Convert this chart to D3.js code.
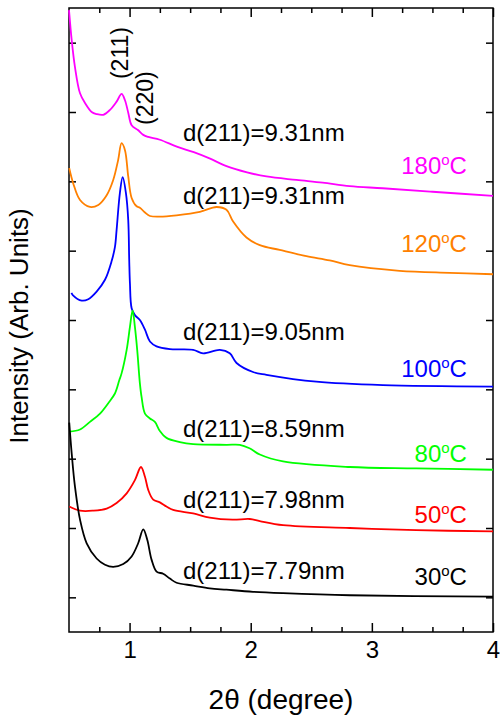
<!DOCTYPE html>
<html>
<head>
<meta charset="utf-8">
<script src="https://cdn.jsdelivr.net/npm/d3@7"></script>
<style>
  body { margin: 0; background: #fff; }
  text { font-family: "Liberation Sans", Arial, sans-serif; }
</style>
</head>
<body>
<div id="chart"></div>
<script>
// SAXS patterns, one curve per annealing temperature (arbitrary, offset units)
const temps = ["180", "120", "100", "80", "50", "30"]
const spacings = ["9.31", "9.31", "9.05", "8.59", "7.98", "7.79"]
const colors = ["#ff00ff", "#ff8000", "#0000ff", "#00ff00", "#ff0000", "#000000"]

const xTickValues = [1, 2, 3, 4]
const yTickValues = [1, 2, 3, 4, 5, 6, 7, 8, 9]

const s180 = [[0.5,9.47],[0.522,9.04],[0.549,8.65],[0.591,8.27],[0.632,8.13],[0.687,8.00],[0.728,7.97],[0.783,7.96],[0.838,8.03],[0.893,8.15],[0.934,8.26],[0.962,8.17],[0.989,7.99],[1.017,7.81],[1.069,7.74],[1.113,7.67],[1.154,7.64],[1.25,7.60],[1.39,7.50],[1.53,7.42],[1.66,7.33],[1.80,7.22],[1.97,7.13],[2.13,7.07],[2.377,7.02],[2.594,6.98],[2.817,6.93],[3.089,6.90],[3.501,6.85],[4.0,6.79]]
const s120 = [[0.502,7.19],[0.535,6.97],[0.591,6.73],[0.673,6.63],[0.742,6.66],[0.811,6.80],[0.865,7.02],[0.906,7.31],[0.934,7.55],[0.962,7.45],[0.989,7.07],[1.017,6.76],[1.058,6.64],[1.085,6.62],[1.127,6.55],[1.168,6.50],[1.25,6.49],[1.388,6.51],[1.58,6.56],[1.718,6.63],[1.80,6.59],[1.855,6.42],[1.965,6.19],[2.075,6.08],[2.239,6.01],[2.46,5.92],[2.652,5.86],[2.817,5.79],[3.229,5.71],[3.641,5.68],[4.0,5.66]]
const s100 = [[0.52,5.39],[0.531,5.36],[0.605,5.28],[0.659,5.30],[0.728,5.41],[0.797,5.58],[0.852,5.85],[0.879,6.05],[0.893,6.30],[0.920,6.83],[0.943,7.06],[0.970,6.83],[0.989,6.44],[0.997,5.87],[1.003,5.53],[1.017,5.17],[1.044,5.07],[1.085,5.00],[1.127,4.86],[1.168,4.69],[1.223,4.62],[1.333,4.58],[1.525,4.57],[1.607,4.52],[1.745,4.57],[1.827,4.52],[1.883,4.38],[2.019,4.25],[2.13,4.21],[2.542,4.11],[3.091,4.06],[4.0,4.04]]
const s80 = [[0.502,3.39],[0.591,3.42],[0.673,3.53],[0.756,3.65],[0.824,3.80],[0.879,3.94],[0.915,4.13],[0.934,4.23],[0.976,4.57],[1.003,4.90],[1.025,5.14],[1.044,4.90],[1.063,4.57],[1.085,4.09],[1.099,3.89],[1.127,3.65],[1.168,3.58],[1.209,3.53],[1.25,3.40],[1.305,3.30],[1.415,3.24],[1.525,3.21],[1.80,3.20],[1.91,3.20],[1.99,3.15],[2.075,3.06],[2.267,2.96],[2.817,2.88],[3.366,2.86],[4.0,2.84]]
const s50 = [[0.502,2.31],[0.591,2.25],[0.70,2.25],[0.811,2.28],[0.893,2.36],[0.976,2.50],[1.044,2.69],[1.094,2.88],[1.127,2.74],[1.154,2.55],[1.195,2.41],[1.25,2.37],[1.305,2.31],[1.36,2.26],[1.525,2.21],[1.662,2.15],[1.85,2.12],[1.992,2.13],[2.075,2.10],[2.267,2.04],[2.817,2.00],[3.366,1.97],[4.0,1.95]]
const s30 = [[0.502,3.52],[0.522,3.08],[0.549,2.60],[0.591,2.12],[0.646,1.78],[0.728,1.56],[0.797,1.47],[0.865,1.44],[0.948,1.48],[1.017,1.59],[1.071,1.78],[1.113,1.98],[1.146,1.83],[1.182,1.54],[1.223,1.37],[1.277,1.34],[1.333,1.27],[1.388,1.21],[1.525,1.17],[1.662,1.13],[1.80,1.11],[2.019,1.08],[2.267,1.06],[2.817,1.03],[4.0,1.01]]

const allSeries = [s180, s120, s100, s80, s50, s30]

var margin = {top: 8, right: 7, bottom: 87, left: 69}
var width = 500 - margin.left - margin.right,
    height = 719 - margin.top - margin.bottom

const svg = d3.select("#chart")
    .append("svg")
    .attr("width", 500)
    .attr("height", 719)

const g = svg.append("g")
    .attr("transform", "translate(" + margin.left + "," + margin.top + ")")

let x = d3.scaleLinear().domain([0.5, 4]).range([0, width])
let y = d3.scaleLinear().domain([0.5, 9.5]).range([height, 0])

// ---- axes, ticks pointing inward ----
const minorX = d3.range(0.75, 4, 0.25).filter(d => d % 1 !== 0)

g.append("g")
    .attr("transform", "translate(0," + height + ")")
    .call(d3.axisBottom(x).tickValues(xTickValues).tickSizeInner(-9).tickSizeOuter(0).tickPadding(9).tickFormat(d3.format("d")))
    .call(a => a.selectAll("text").style("font-size", "24px").attr("fill", "#000"))
g.append("g")
    .attr("transform", "translate(0," + height + ")")
    .call(d3.axisBottom(x).tickValues(minorX).tickSize(-5).tickFormat(""))
g.append("g")
    .call(d3.axisTop(x).tickValues(xTickValues).tickSize(-9).tickFormat(""))
g.append("g")
    .call(d3.axisTop(x).tickValues(minorX).tickSize(-5).tickFormat(""))
g.append("g")
    .call(d3.axisLeft(y).tickValues(yTickValues).tickSize(-7).tickFormat(""))
g.append("g")
    .attr("transform", "translate(" + width + ",0)")
    .call(d3.axisRight(y).tickValues(yTickValues).tickSize(-7).tickFormat(""))

g.selectAll(".domain").remove()
g.selectAll(".tick line").attr("stroke", "#000").attr("stroke-width", 1.5)

g.append("rect")
    .attr("width", width)
    .attr("height", height)
    .attr("fill", "none")
    .attr("stroke", "#000")
    .attr("stroke-width", 1.5)

// ---- curves ----
const line = d3.line()
    .x(d => x(d[0]))
    .y(d => y(d[1]))
    .curve(d3.curveCatmullRom.alpha(0.5))

g.selectAll(".curve")
    .data(allSeries)
    .enter()
    .append("path")
    .attr("class", "curve")
    .attr("d", line)
    .attr("fill", "none")
    .attr("stroke", (d, i) => colors[i])
    .attr("stroke-width", 1.8)
    .attr("stroke-linejoin", "round")

// ---- annotations ----
const dLabelY = [7.58, 6.67, 4.71, 3.31, 2.29, 1.26]
const tempLabelY = [7.11, 5.98, 4.18, 2.95, 2.07, 1.18]

g.selectAll(".dlab")
    .data(spacings)
    .enter()
    .append("text")
    .attr("class", "dlab")
    .attr("x", x(1.441))
    .attr("y", (d, i) => y(dLabelY[i]))
    .style("font-size", "24px")
    .text(d => "d(211)=" + d + "nm")

const tl = g.selectAll(".tlab")
    .data(temps)
    .enter()
    .append("text")
    .attr("class", "tlab")
    .attr("x", x(3.785))
    .attr("y", (d, i) => y(tempLabelY[i]))
    .attr("text-anchor", "end")
    .attr("fill", (d, i) => colors[i])
    .style("font-size", "24px")
tl.append("tspan").text(d => d)
tl.append("tspan").attr("dy", -9).style("font-size", "15px").text("o")
tl.append("tspan").attr("dy", 9).text("C")

// peak indices, rotated
g.append("text")
    .attr("transform", "translate(" + (x(0.988)) + "," + y(8.85) + ") rotate(-90)")
    .attr("text-anchor", "middle")
    .style("font-size", "23px")
    .text("(211)")
g.append("text")
    .attr("transform", "translate(" + (x(1.194)) + "," + y(8.2) + ") rotate(-90)")
    .attr("text-anchor", "middle")
    .style("font-size", "23px")
    .text("(220)")

// axis titles
svg.append("text")
    .attr("x", margin.left + width / 2)
    .attr("y", 709)
    .attr("text-anchor", "middle")
    .style("font-size", "28px")
    .text("2\u03b8 (degree)")

svg.append("text")
    .attr("transform", "translate(28," + (margin.top + height / 2 + 6) + ") rotate(-90)")
    .attr("text-anchor", "middle")
    .style("font-size", "26px")
    .text("Intensity (Arb. Units)")
</script>
</body>
</html>
